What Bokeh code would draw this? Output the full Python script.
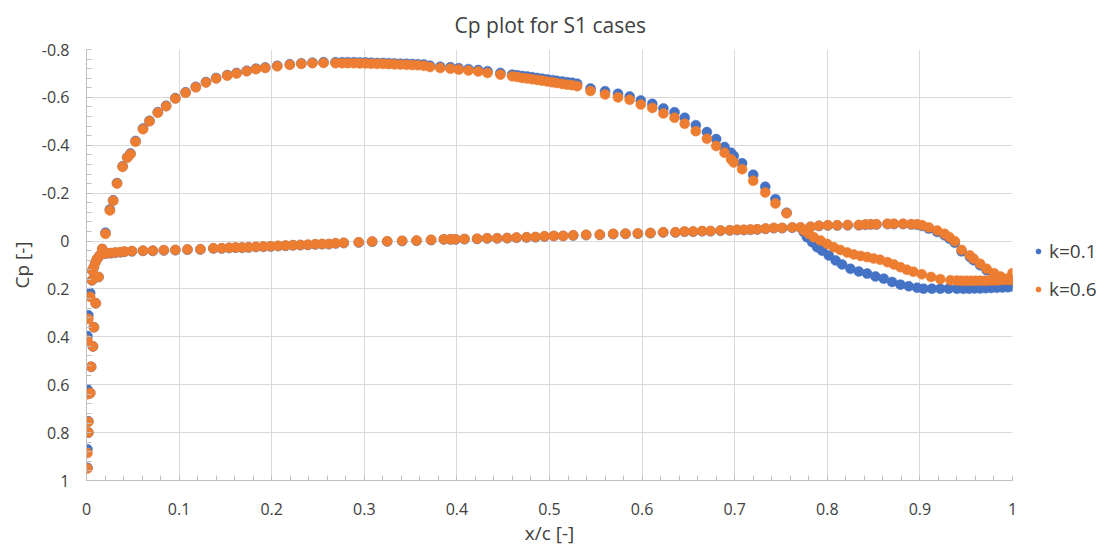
from bokeh.plotting import figure
from bokeh.layouts import row
from bokeh.models import (Range1d, FixedTicker, CustomJSTickFormatter, Legend,
                          LegendItem)
from bokeh.embed import file_html
from bokeh.resources import INLINE

# ---------------- data ----------------
TITLE = "Cp plot for S1 cases"
X_LABEL = "x/c [-]"
Y_LABEL = "Cp [-]"
SERIES = ["k=0.1", "k=0.6"]
X_TICKS = [0, 0.1, 0.2, 0.3, 0.4, 0.5, 0.6, 0.7, 0.8, 0.9, 1.0]
Y_TICKS = [-0.8, -0.6, -0.4, -0.2, 0, 0.2, 0.4, 0.6, 0.8, 1.0]

# leading edge / stagnation region
x_le = [0.001, 0.001, 0.002, 0.002, 0.001, 0.004, 0.005, 0.007, 0.001, 0.008, 0.002,
        0.010, 0.004, 0.006, 0.013, 0.0062, 0.0079, 0.0097, 0.0116, 0.0144, 0.017]
cp_le_k01 = [0.947, 0.870, 0.800, 0.753, 0.620, 0.635, 0.525, 0.440, 0.397, 0.360, 0.310,
             0.260, 0.217, 0.164, 0.150, 0.123, 0.109, 0.088, 0.074, 0.060, 0.033]
cp_le_k06 = [0.950, 0.885, 0.800, 0.755, 0.640, 0.635, 0.525, 0.440, 0.415, 0.360, 0.325,
             0.260, 0.233, 0.164, 0.150, 0.123, 0.109, 0.088, 0.074, 0.060, 0.033]

# suction side, leading edge to x/c ~ 0.756
x_upper = [0.0205, 0.0252, 0.0288, 0.033, 0.039, 0.044, 0.0475, 0.053, 0.061, 0.068,
           0.077, 0.086, 0.096, 0.107, 0.118, 0.129, 0.140, 0.152, 0.162, 0.173,
           0.183, 0.193, 0.206, 0.2195, 0.232, 0.244, 0.256,
           0.2689, 0.2761, 0.2821, 0.2887, 0.2951, 0.3013, 0.3074, 0.3139, 0.3204, 0.3264,
           0.3326, 0.3391, 0.3456, 0.3517, 0.3578, 0.3643,
           0.371, 0.382, 0.393, 0.402, 0.4125, 0.423, 0.433, 0.447,
           0.4597, 0.4651, 0.4705, 0.4759, 0.4813, 0.4867, 0.4921, 0.4975, 0.5029, 0.5076,
           0.5137, 0.5191, 0.5245, 0.5299,
           0.5443, 0.560, 0.574, 0.5866, 0.5986, 0.611, 0.623, 0.635, 0.646, 0.658,
           0.670, 0.680, 0.689, 0.696, 0.699, 0.708, 0.720, 0.733, 0.744, 0.756]
cp_upper_k01 = [-0.035, -0.132, -0.170, -0.242, -0.312, -0.350, -0.366, -0.418, -0.470, -0.502,
                -0.538, -0.565, -0.597, -0.621, -0.644, -0.664, -0.681, -0.693, -0.702, -0.711,
                -0.720, -0.725, -0.732, -0.738, -0.742, -0.745, -0.747,
                -0.747, -0.747, -0.747, -0.747, -0.746, -0.746, -0.745, -0.744, -0.744, -0.743,
                -0.742, -0.741, -0.740, -0.739, -0.738, -0.737,
                -0.732, -0.728, -0.726, -0.722, -0.718, -0.714, -0.709, -0.702,
                -0.695, -0.692, -0.689, -0.687, -0.684, -0.681, -0.678, -0.675, -0.672, -0.669,
                -0.666, -0.663, -0.661, -0.657,
                -0.637, -0.626, -0.615, -0.604, -0.587, -0.573, -0.554, -0.538, -0.515, -0.484,
                -0.455, -0.426, -0.393, -0.369, -0.355, -0.325, -0.277, -0.227, -0.175, -0.118]
cp_upper_k06 = [-0.030, -0.128, -0.168, -0.240, -0.310, -0.348, -0.363, -0.415, -0.467, -0.500,
                -0.536, -0.563, -0.595, -0.619, -0.642, -0.662, -0.679, -0.691, -0.700, -0.709,
                -0.718, -0.723, -0.730, -0.736, -0.740, -0.743, -0.744,
                -0.743, -0.743, -0.743, -0.743, -0.742, -0.742, -0.741, -0.740, -0.740, -0.739,
                -0.738, -0.737, -0.736, -0.735, -0.734, -0.732,
                -0.727, -0.723, -0.720, -0.716, -0.712, -0.708, -0.702, -0.695,
                -0.688, -0.685, -0.681, -0.679, -0.676, -0.673, -0.670, -0.666, -0.663, -0.660,
                -0.656, -0.653, -0.651, -0.647,
                -0.627, -0.612, -0.600, -0.590, -0.570, -0.556, -0.533, -0.515, -0.490, -0.459,
                -0.427, -0.397, -0.369, -0.342, -0.328, -0.300, -0.252, -0.203, -0.157, -0.116]

# suction side, aft part (x/c > 0.77) to trailing edge
x_aft_k01 = [0.7746, 0.778, 0.7837, 0.789, 0.7945, 0.8016, 0.809, 0.816, 0.825, 0.834,
             0.843, 0.852, 0.861, 0.870, 0.879, 0.888, 0.897, 0.904, 0.913, 0.922,
             0.931, 0.940, 0.947, 0.953, 0.959, 0.965, 0.971, 0.977, 0.983, 0.989,
             0.995, 1.0]
cp_aft_k01 = [-0.037, -0.016, 0.005, 0.026, 0.040, 0.060, 0.081, 0.098, 0.116, 0.127,
              0.136, 0.148, 0.157, 0.171, 0.182, 0.189, 0.195, 0.199, 0.199, 0.199,
              0.199, 0.199, 0.199, 0.199, 0.198, 0.198, 0.197, 0.196, 0.195, 0.194,
              0.193, 0.190]
x_aft_k06 = [0.7746, 0.780, 0.7854, 0.7927, 0.800, 0.807, 0.814, 0.8215, 0.8286, 0.836,
             0.843, 0.850, 0.857, 0.865, 0.872, 0.879, 0.886, 0.893, 0.902, 0.912,
             0.922, 0.933, 0.940, 0.945, 0.950, 0.955, 0.960, 0.965, 0.970, 0.975,
             0.980, 0.985, 0.990, 0.995, 1.0, 1.0]
cp_aft_k06 = [-0.044, -0.030, -0.016, -0.002, 0.012, 0.026, 0.037, 0.048, 0.056, 0.062,
              0.067, 0.073, 0.078, 0.088, 0.098, 0.109, 0.120, 0.128, 0.139, 0.150,
              0.159, 0.164, 0.165, 0.166, 0.166, 0.166, 0.166, 0.166, 0.166, 0.165,
              0.165, 0.164, 0.163, 0.162, 0.160, 0.134]

# pressure side, leading edge to trailing edge (incl. aft bump)
x_lower = [0.0205, 0.026, 0.031, 0.0367, 0.041, 0.049,
           0.061, 0.0716, 0.0835, 0.096, 0.109, 0.123, 0.137,
           0.146, 0.154, 0.161, 0.168, 0.175, 0.183, 0.191, 0.199, 0.207, 0.215, 0.223,
           0.231, 0.239, 0.247,
           0.2545, 0.2617, 0.269, 0.2778, 0.294, 0.3085, 0.3247, 0.3409, 0.3564, 0.3722,
           0.3859, 0.3931, 0.3985, 0.4082, 0.4219, 0.4327, 0.4435, 0.4543, 0.4644, 0.4752,
           0.4849,
           0.4946, 0.5047, 0.5148, 0.5256, 0.5396, 0.5543, 0.5688, 0.5821, 0.5954, 0.609,
           0.6228, 0.636, 0.6458, 0.6551, 0.6649, 0.6739, 0.6847, 0.6947, 0.7027, 0.7099,
           0.7171, 0.7243,
           0.7333, 0.7422, 0.7513, 0.7621, 0.7711,
           0.7819, 0.791, 0.8006, 0.8107, 0.822, 0.834, 0.841, 0.847, 0.853, 0.865,
           0.872, 0.8819, 0.8906, 0.897, 0.9024,
           0.9096, 0.9187, 0.9266, 0.932, 0.9377, 0.945, 0.954, 0.958, 0.965, 0.972,
           0.980, 0.987, 0.994, 0.9995]
cp_lower_k01 = [0.053, 0.051, 0.049, 0.047, 0.045, 0.043,
                0.041, 0.041, 0.039, 0.038, 0.036, 0.035, 0.031,
                0.031, 0.029, 0.028, 0.028, 0.027, 0.025, 0.024, 0.023, 0.021, 0.020, 0.018,
                0.017, 0.016, 0.014,
                0.013, 0.013, 0.010, 0.008, 0.006, 0.003, 0.002, 0.000, -0.001, -0.004,
                -0.007, -0.007, -0.007, -0.008, -0.009, -0.011, -0.011, -0.012, -0.014, -0.015,
                -0.016,
                -0.019, -0.021, -0.021, -0.023, -0.025, -0.026, -0.029, -0.030, -0.031, -0.033,
                -0.036, -0.036, -0.039, -0.039, -0.041, -0.041, -0.043, -0.044, -0.046, -0.046,
                -0.047, -0.048,
                -0.051, -0.054, -0.054, -0.056, -0.056,
                -0.059, -0.063, -0.065, -0.065, -0.066, -0.066, -0.068, -0.069, -0.069, -0.071,
                -0.071, -0.071, -0.069, -0.068, -0.063,
                -0.052, -0.038, -0.024, -0.010, 0.007, 0.043, 0.066, 0.080, 0.101, 0.122,
                0.140, 0.154, 0.163, 0.170]
cp_lower_k06 = [0.052, 0.050, 0.048, 0.046, 0.044, 0.042,
                0.040, 0.040, 0.038, 0.037, 0.035, 0.034, 0.030,
                0.030, 0.028, 0.027, 0.027, 0.026, 0.024, 0.023, 0.022, 0.020, 0.019, 0.017,
                0.016, 0.015, 0.013,
                0.012, 0.012, 0.009, 0.0075, 0.005, 0.002, 0.001, -0.001, -0.002, -0.005,
                -0.0075, -0.0075, -0.0075, -0.009, -0.010, -0.012, -0.012, -0.013, -0.015, -0.016,
                -0.017,
                -0.020, -0.0216, -0.0216, -0.024, -0.026, -0.027, -0.030, -0.031, -0.032, -0.034,
                -0.037, -0.037, -0.040, -0.040, -0.042, -0.042, -0.044, -0.045, -0.047, -0.047,
                -0.048, -0.049,
                -0.052, -0.055, -0.055, -0.057, -0.057,
                -0.060, -0.064, -0.066, -0.066, -0.067, -0.067, -0.069, -0.070, -0.070, -0.072,
                -0.072, -0.072, -0.070, -0.070, -0.066,
                -0.057, -0.044, -0.030, -0.016, 0.001, 0.037, 0.060, 0.074, 0.095, 0.116,
                0.134, 0.148, 0.157, 0.164]

BLUE = "#4472C4"
ORANGE = "#ED7D31"
TEXT = "#404040"
FONT = "Open Sans"

x_blue = x_le + x_upper + x_aft_k01 + x_lower
y_blue = cp_le_k01 + cp_upper_k01 + cp_aft_k01 + cp_lower_k01
x_orange = x_le + x_upper + x_aft_k06 + x_lower
y_orange = cp_le_k06 + cp_upper_k06 + cp_aft_k06 + cp_lower_k06

# ---------------- main figure ----------------
p = figure(width=1020, height=548, output_backend="svg", toolbar_location=None,
           x_range=Range1d(0, 1), y_range=Range1d(1, -0.8),
           min_border_left=86, min_border_right=8, min_border_top=48,
           min_border_bottom=67)
p.outline_line_color = None
p.background_fill_color = "white"
p.border_fill_color = "white"

p.title.text = TITLE
p.title.align = "left"
p.title.offset = 368
p.title.vertical_align = "middle"
p.title.text_font = FONT
p.title.text_font_size = "21px"
p.title.text_font_style = "normal"
p.title.text_color = TEXT
p.title.standoff = 19

p.scatter(x_blue, y_blue, size=10, fill_color=BLUE, line_color=BLUE, line_width=0.5)
p.scatter(x_orange, y_orange, size=10, fill_color=ORANGE, line_color=ORANGE, line_width=0.5)

minor_x = [round(i * 0.02, 2) for i in range(51)]
minor_y = [round(-0.8 + i * 0.04, 2) for i in range(46)]
p.xaxis.ticker = FixedTicker(ticks=X_TICKS, minor_ticks=minor_x)
p.yaxis.ticker = FixedTicker(ticks=Y_TICKS, minor_ticks=minor_y)
fmt = "return String(Number(tick.toFixed(1)) + 0);"
p.xaxis.formatter = CustomJSTickFormatter(code=fmt)
p.yaxis.formatter = CustomJSTickFormatter(code=fmt)

for ax in (p.xaxis, p.yaxis):
    ax.axis_line_color = "#bfbfbf"
    ax.axis_line_width = 1
    ax.major_tick_in = 0
    ax.major_tick_out = 0
    ax.minor_tick_in = 5
    ax.minor_tick_out = 0
    ax.minor_tick_line_color = "#bfbfbf"
    ax.major_label_text_font = FONT
    ax.major_label_text_font_size = "16px"
    ax.major_label_text_color = TEXT
    ax.axis_label_text_font = FONT
    ax.axis_label_text_font_size = "19px"
    ax.axis_label_text_font_style = "normal"
    ax.axis_label_text_color = TEXT
p.xaxis.major_label_standoff = 22
p.yaxis.major_label_standoff = 17
p.xaxis.axis_label = X_LABEL
p.yaxis.axis_label = Y_LABEL
p.xaxis.axis_label_standoff = 2
p.yaxis.axis_label_standoff = 4

p.xgrid.grid_line_color = "#d9d9d9"
p.ygrid.grid_line_color = "#d9d9d9"
p.xgrid.ticker = FixedTicker(ticks=X_TICKS)
p.ygrid.ticker = FixedTicker(ticks=Y_TICKS)

# ---------------- legend strip ----------------
q = figure(width=79, height=548, output_backend="svg", toolbar_location=None,
           x_range=Range1d(5, 6), y_range=Range1d(5, 6),
           min_border_left=0, min_border_right=0, min_border_top=0,
           min_border_bottom=0)
q.axis.visible = False
q.grid.visible = False
q.outline_line_color = None
q.background_fill_color = "white"
q.border_fill_color = "white"
# same data, out of this strip's ranges: only used to draw the legend keys
k1 = q.scatter(x_blue, y_blue, size=7, fill_color=BLUE, line_color=BLUE)
k2 = q.scatter(x_orange, y_orange, size=7, fill_color=ORANGE, line_color=ORANGE)
legend = Legend(items=[LegendItem(label=SERIES[0], renderers=[k1]),
                       LegendItem(label=SERIES[1], renderers=[k2])],
                location=(12, 178), orientation="vertical",
                glyph_width=12, glyph_height=20, label_height=20, spacing=12,
                label_standoff=5, padding=0, margin=0,
                border_line_alpha=0, background_fill_alpha=0,
                label_text_font=FONT, label_text_font_size="19px",
                label_text_color=TEXT)
q.add_layout(legend)

layout = row(p, q)
open("out.html", "w").write(file_html(layout, INLINE))
